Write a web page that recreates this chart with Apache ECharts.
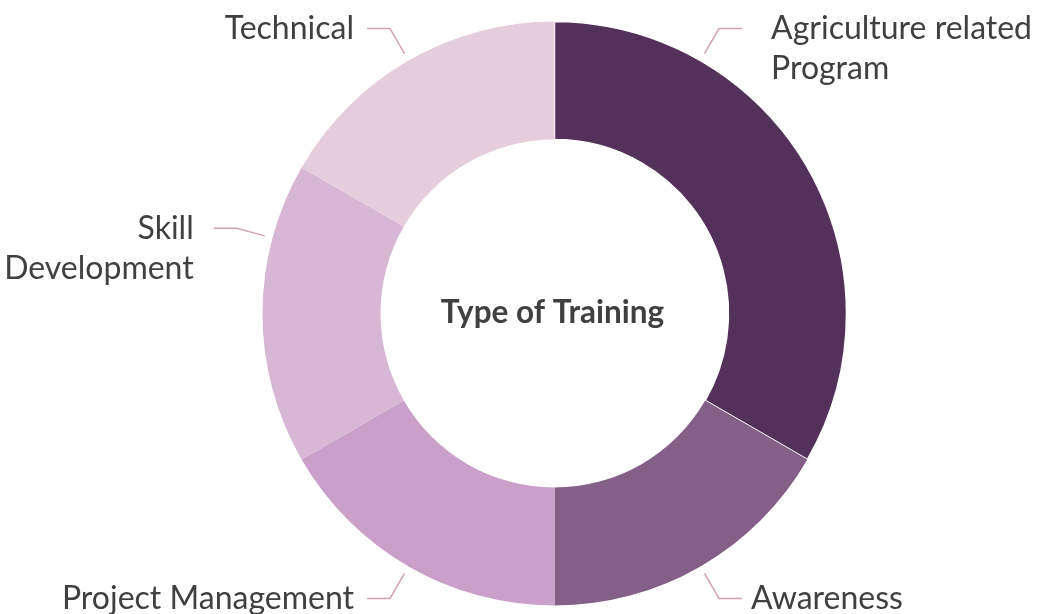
<!DOCTYPE html>
<html><head><meta charset="utf-8">
<script src="https://cdn.jsdelivr.net/npm/echarts@6/dist/echarts.min.js"></script>
<style>html,body{margin:0;padding:0;background:#fff}#c{width:1041px;height:614px}</style>
</head><body><div id="c"></div>
<script>
// ---- data ----
const categories = ['Agriculture related\nProgram', 'Awareness', 'Project Management', 'Skill\nDevelopment', 'Technical'];
const values = [2, 1, 1, 1, 1];
const sliceColors = ['#54315a', '#845f88', '#caa0ca', '#d8b7d4', '#e5cedc'];
const centerTitle = 'Type of Training';

// ---- layout (pixels) ----
const CX = 554.5, CY = 313.5, R_OUT = 292, R_IN = 174;
const labelAngles = [30, 150, 210, 285, 330];   // where each label line leaves the ring
const labelGaps = [29, 9, 13, 20, 13];
const LINE_H = 40;

function pt(angDeg, r) {
  const a = angDeg * Math.PI / 180;
  return [CX + r * Math.sin(a), CY - r * Math.cos(a)];
}

const chart = echarts.init(document.getElementById('c'), null, {renderer: 'canvas'});
chart.setOption({
  animation: false,
  backgroundColor: '#ffffff',
  title: {
    text: centerTitle,
    left: CX - 2, top: CY - 1,
    padding: 0,
    textAlign: 'center', textVerticalAlign: 'middle',
    textStyle: {fontFamily: 'Lato', fontWeight: 'bold', fontSize: 31.5, color: '#404040'}
  },
  series: [{
    type: 'pie',
    center: [CX, CY],
    radius: [R_IN, R_OUT],
    startAngle: 90,
    clockwise: true,
    avoidLabelOverlap: false,
    emphasis: {disabled: true},
    data: categories.map((c, i) => ({
      name: c, value: values[i],
      itemStyle: i === 0 ? {color: sliceColors[i], borderColor: '#fff', borderWidth: 1.5} : {color: sliceColors[i]}
    })),
    label: {
      show: true, position: 'outside',
      formatter: '{b}',
      fontFamily: 'Lato', fontSize: 32, color: '#404040', lineHeight: LINE_H
    },
    labelLine: {show: true, lineStyle: {color: '#d4a3ad', width: 1.5}},
    labelLayout: function (params) {
      const i = params.dataIndex;
      const a = labelAngles[i];
      const side = Math.sin(a * Math.PI / 180) >= 0 ? 1 : -1;
      const p0 = pt(a, R_OUT + 8);
      const p1 = pt(a, R_OUT + 37);
      const p2 = [p1[0] + side * 23, p1[1]];
      return {
        x: p2[0] + side * labelGaps[i],
        y: p2[1] - LINE_H / 2,
        align: side > 0 ? 'left' : 'right',
        verticalAlign: 'top',
        labelLinePoints: [p0, p1, p2]
      };
    }
  }]
});
</script>
</body></html>
